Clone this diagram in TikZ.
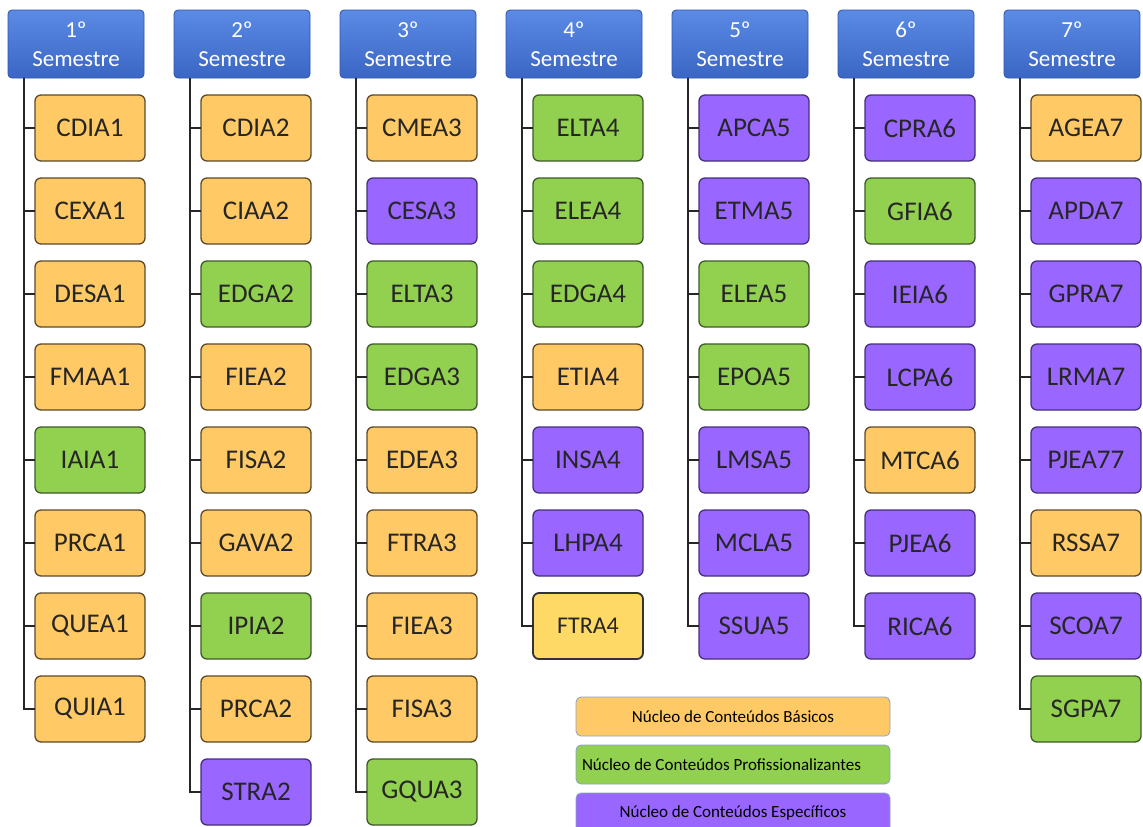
\documentclass[tikz,border=0pt]{standalone}
\usepackage{fontspec}
\setmainfont{Carlito}
\usetikzlibrary{positioning,calc}

\definecolor{basicofill}{HTML}{FFC966}
\definecolor{basicoline}{HTML}{5C4A2A}
\definecolor{proffill}{HTML}{92D050}
\definecolor{profline}{HTML}{3F5A2A}
\definecolor{especfill}{HTML}{9966FF}
\definecolor{especline}{HTML}{45307A}
\definecolor{semtop}{HTML}{5B8BE6}
\definecolor{sembottom}{HTML}{3A66C4}
\definecolor{semline}{HTML}{2F55A4}
\definecolor{legline}{HTML}{8AA2C4}
\definecolor{ftrafill}{HTML}{FFD966}

\begin{document}
\begin{tikzpicture}[
    x=1pt, y=1pt,
    node distance=17pt,
    sem/.style={draw=semline, line width=0.8pt, rounded corners=4pt, top color=semtop, bottom color=sembottom, minimum width=136pt, minimum height=68pt, inner sep=0pt, outer sep=0pt, align=center, text=white, font=\fontsize{23}{29}\selectfont},
    disc/.style={line width=1.3pt, rounded corners=6pt, minimum width=110pt, minimum height=66pt, inner sep=0pt, outer sep=0pt, text=black!85, font=\fontsize{27}{30}\selectfont},
    basico/.style={disc, draw=basicoline, fill=basicofill},
    prof/.style={disc, draw=profline, fill=proffill},
    espec/.style={disc, draw=especline, fill=especfill},
    destaque/.style={disc, draw=black!80, line width=1.8pt, fill=ftrafill, font=\fontsize{24}{28}\selectfont},
    legenda/.style={draw=legline, line width=0.8pt, rounded corners=5pt, minimum width=314pt, minimum height=39pt, inner sep=0pt, outer sep=0pt, text=black, font=\fontsize{17}{20}\selectfont},
    tree/.style={draw=black!85, line width=2pt}
]
\useasboundingbox (0,0) rectangle (1143,-827);

% Semestres
\node[sem] at (76,-44) (hdr1) {1º\\Semestre};
\node[sem, right=30pt of hdr1] (hdr2) {2º\\Semestre};
\node[sem, right=30pt of hdr2] (hdr3) {3º\\Semestre};
\node[sem, right=30pt of hdr3] (hdr4) {4º\\Semestre};
\node[sem, right=30pt of hdr4] (hdr5) {5º\\Semestre};
\node[sem, right=30pt of hdr5] (hdr6) {6º\\Semestre};
\node[sem, right=30pt of hdr6] (hdr7) {7º\\Semestre};

% 1o semestre
\node[basico, below=of hdr1, xshift=14pt] (cdia1) {CDIA1};
\node[basico, below=of cdia1] (cexa1) {CEXA1};
\node[basico, below=of cexa1] (desa1) {DESA1};
\node[basico, below=of desa1] (fmaa1) {FMAA1};
\node[prof, below=of fmaa1] (iaia1) {IAIA1};
\node[basico, below=of iaia1] (prca1) {PRCA1};
\node[basico, below=of prca1] (quea1) {QUEA1};
\node[basico, below=of quea1] (quia1) {QUIA1};

% 2o semestre
\node[basico, below=of hdr2, xshift=14pt] (cdia2) {CDIA2};
\node[basico, below=of cdia2] (ciaa2) {CIAA2};
\node[prof, below=of ciaa2] (edga2) {EDGA2};
\node[basico, below=of edga2] (fiea2) {FIEA2};
\node[basico, below=of fiea2] (fisa2) {FISA2};
\node[basico, below=of fisa2] (gava2) {GAVA2};
\node[prof, below=of gava2] (ipia2) {IPIA2};
\node[basico, below=of ipia2] (prca2) {PRCA2};
\node[espec, below=of prca2] (stra2) {STRA2};

% 3o semestre
\node[basico, below=of hdr3, xshift=14pt] (cmea3) {CMEA3};
\node[espec, below=of cmea3] (cesa3) {CESA3};
\node[prof, below=of cesa3] (elta3) {ELTA3};
\node[prof, below=of elta3] (edga3) {EDGA3};
\node[basico, below=of edga3] (edea3) {EDEA3};
\node[basico, below=of edea3] (ftra3) {FTRA3};
\node[basico, below=of ftra3] (fiea3) {FIEA3};
\node[basico, below=of fiea3] (fisa3) {FISA3};
\node[prof, below=of fisa3] (gqua3) {GQUA3};

% 4o semestre
\node[prof, below=of hdr4, xshift=14pt] (elta4) {ELTA4};
\node[prof, below=of elta4] (elea4) {ELEA4};
\node[prof, below=of elea4] (edga4) {EDGA4};
\node[basico, below=of edga4] (etia4) {ETIA4};
\node[espec, below=of etia4] (insa4) {INSA4};
\node[espec, below=of insa4] (lhpa4) {LHPA4};
\node[destaque, below=of lhpa4] (ftra4) {FTRA4};

% 5o semestre
\node[espec, below=of hdr5, xshift=14pt] (apca5) {APCA5};
\node[espec, below=of apca5] (etma5) {ETMA5};
\node[prof, below=of etma5] (elea5) {ELEA5};
\node[prof, below=of elea5] (epoa5) {EPOA5};
\node[espec, below=of epoa5] (lmsa5) {LMSA5};
\node[espec, below=of lmsa5] (mcla5) {MCLA5};
\node[espec, below=of mcla5] (ssua5) {SSUA5};

% 6o semestre
\node[espec, below=of hdr6, xshift=14pt] (cpra6) {CPRA6};
\node[prof, below=of cpra6] (gfia6) {GFIA6};
\node[espec, below=of gfia6] (ieia6) {IEIA6};
\node[espec, below=of ieia6] (lcpa6) {LCPA6};
\node[basico, below=of lcpa6] (mtca6) {MTCA6};
\node[espec, below=of mtca6] (pjea6) {PJEA6};
\node[espec, below=of pjea6] (rica6) {RICA6};

% 7o semestre
\node[basico, below=of hdr7, xshift=14pt] (agea7) {AGEA7};
\node[espec, below=of agea7] (apda7) {APDA7};
\node[espec, below=of apda7] (gpra7) {GPRA7};
\node[espec, below=of gpra7] (lrma7) {LRMA7};
\node[espec, below=of lrma7] (pjea77) {PJEA77};
\node[basico, below=of pjea77] (rssa7) {RSSA7};
\node[espec, below=of rssa7] (scoa7) {SCOA7};
\node[prof, below=of scoa7] (sgpa7) {SGPA7};

% Ligacoes
\coordinate (t1) at ([xshift=16pt]hdr1.south west);
\coordinate (t2) at ([xshift=16pt]hdr2.south west);
\coordinate (t3) at ([xshift=16pt]hdr3.south west);
\coordinate (t4) at ([xshift=16pt]hdr4.south west);
\coordinate (t5) at ([xshift=16pt]hdr5.south west);
\coordinate (t6) at ([xshift=16pt]hdr6.south west);
\coordinate (t7) at ([xshift=16pt]hdr7.south west);

\draw[tree] (t1) |- (cdia1.west) (t1) |- (cexa1.west) (t1) |- (desa1.west) (t1) |- (fmaa1.west)
    (t1) |- (iaia1.west) (t1) |- (prca1.west) (t1) |- (quea1.west) (t1) |- (quia1.west);
\draw[tree] (t2) |- (cdia2.west) (t2) |- (ciaa2.west) (t2) |- (edga2.west) (t2) |- (fiea2.west)
    (t2) |- (fisa2.west) (t2) |- (gava2.west) (t2) |- (ipia2.west) (t2) |- (prca2.west) (t2) |- (stra2.west);
\draw[tree] (t3) |- (cmea3.west) (t3) |- (cesa3.west) (t3) |- (elta3.west) (t3) |- (edga3.west)
    (t3) |- (edea3.west) (t3) |- (ftra3.west) (t3) |- (fiea3.west) (t3) |- (fisa3.west) (t3) |- (gqua3.west);
\draw[tree] (t4) |- (elta4.west) (t4) |- (elea4.west) (t4) |- (edga4.west) (t4) |- (etia4.west)
    (t4) |- (insa4.west) (t4) |- (lhpa4.west) (t4) |- (ftra4.west);
\draw[tree] (t5) |- (apca5.west) (t5) |- (etma5.west) (t5) |- (elea5.west) (t5) |- (epoa5.west)
    (t5) |- (lmsa5.west) (t5) |- (mcla5.west) (t5) |- (ssua5.west);
\draw[tree] (t6) |- (cpra6.west) (t6) |- (gfia6.west) (t6) |- (ieia6.west) (t6) |- (lcpa6.west)
    (t6) |- (mtca6.west) (t6) |- (pjea6.west) (t6) |- (rica6.west);
\draw[tree] (t7) |- (agea7.west) (t7) |- (apda7.west) (t7) |- (gpra7.west) (t7) |- (lrma7.west)
    (t7) |- (pjea77.west) (t7) |- (rssa7.west) (t7) |- (scoa7.west) (t7) |- (sgpa7.west);

% Legenda
\node[legenda, fill=basicofill] at (733,-716.5) (legbas) {Núcleo de Conteúdos Básicos};
\node[legenda, fill=proffill, below=9pt of legbas, text width=302pt, align=flush left] (legprof) {Núcleo de Conteúdos Profissionalizantes};
\node[legenda, fill=especfill, below=9pt of legprof] (legesp) {Núcleo de Conteúdos Específicos};

\end{tikzpicture}
\end{document}
